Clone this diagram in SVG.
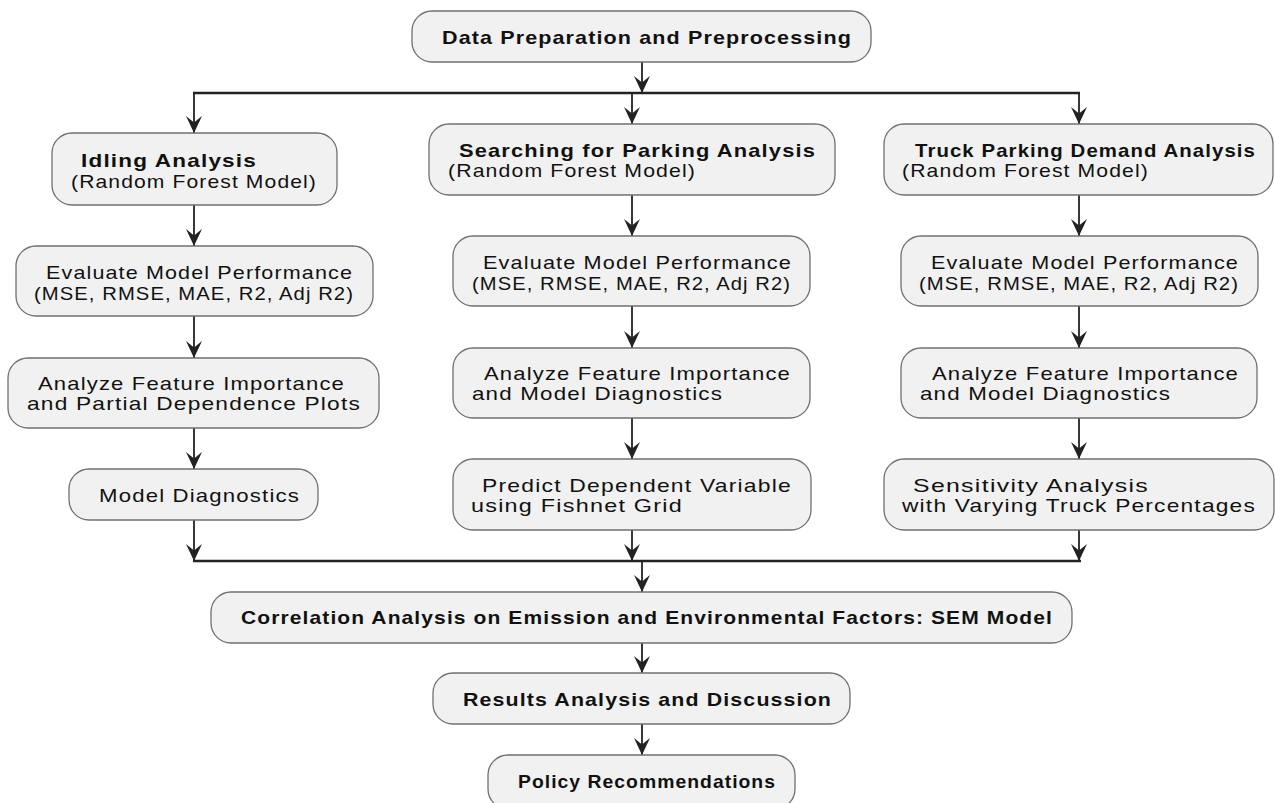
<svg xmlns="http://www.w3.org/2000/svg" width="1275" height="803" viewBox="0 0 1275 803">
<defs>
<style>
.box{fill:#f1f1f1;stroke:#707070;stroke-width:1.3}
.t{font-family:"Liberation Sans",Arial,Helvetica,sans-serif;font-size:19px;fill:#111;letter-spacing:1px}
.b{font-weight:bold}
.c{fill:none;stroke:#222;stroke-width:1.8}
.h{fill:none;stroke:#222;stroke-width:2.5}
</style>
<marker id="ah" viewBox="-18 -9 19 18" refX="0" refY="0" markerWidth="19" markerHeight="18" markerUnits="userSpaceOnUse" orient="auto">
<path d="M0,0 L-17,-8 L-10.5,0 L-17,8 Z" fill="#222"/>
</marker>
</defs>
<rect width="1275" height="803" fill="#ffffff"/>

<g id="connectors">
<line class="h" x1="193" y1="93" x2="1080" y2="93"/>
<line class="h" x1="193" y1="561" x2="1081" y2="561"/>
<line class="c" x1="642" y1="62" x2="642" y2="93" marker-end="url(#ah)"/>
<line class="c" x1="194" y1="93" x2="194" y2="133" marker-end="url(#ah)"/>
<line class="c" x1="632" y1="93" x2="632" y2="124" marker-end="url(#ah)"/>
<line class="c" x1="1079" y1="93" x2="1079" y2="124" marker-end="url(#ah)"/>
<line class="c" x1="194" y1="205" x2="194" y2="246" marker-end="url(#ah)"/>
<line class="c" x1="194" y1="316" x2="194" y2="358" marker-end="url(#ah)"/>
<line class="c" x1="194" y1="428" x2="194" y2="469" marker-end="url(#ah)"/>
<line class="c" x1="194" y1="520" x2="194" y2="561" marker-end="url(#ah)"/>
<line class="c" x1="632" y1="195" x2="632" y2="236" marker-end="url(#ah)"/>
<line class="c" x1="632" y1="306" x2="632" y2="348" marker-end="url(#ah)"/>
<line class="c" x1="632" y1="418" x2="632" y2="459" marker-end="url(#ah)"/>
<line class="c" x1="632" y1="530" x2="632" y2="561" marker-end="url(#ah)"/>
<line class="c" x1="1079" y1="195" x2="1079" y2="236" marker-end="url(#ah)"/>
<line class="c" x1="1079" y1="306" x2="1079" y2="348" marker-end="url(#ah)"/>
<line class="c" x1="1079" y1="418" x2="1079" y2="459" marker-end="url(#ah)"/>
<line class="c" x1="1079" y1="530" x2="1079" y2="561" marker-end="url(#ah)"/>
<line class="c" x1="642" y1="561" x2="642" y2="592" marker-end="url(#ah)"/>
<line class="c" x1="642" y1="643" x2="642" y2="673" marker-end="url(#ah)"/>
<line class="c" x1="642" y1="724" x2="642" y2="755" marker-end="url(#ah)"/>
</g>

<g id="n-data">
<rect class="box" x="412" y="11" width="459" height="51" rx="20"/>
<text class="t b" x="442" y="44" textLength="410" lengthAdjust="spacingAndGlyphs">Data Preparation and Preprocessing</text>
</g>

<g id="n-idling">
<rect class="box" x="52" y="133" width="285" height="72" rx="20"/>
<text class="t b" x="81" y="167" textLength="176" lengthAdjust="spacingAndGlyphs">Idling Analysis</text>
<text class="t" x="71" y="188" textLength="246" lengthAdjust="spacingAndGlyphs">(Random Forest Model)</text>
</g>

<g id="n-search">
<rect class="box" x="429" y="124" width="406" height="71" rx="20"/>
<text class="t b" x="459" y="157" textLength="357" lengthAdjust="spacingAndGlyphs">Searching for Parking Analysis</text>
<text class="t" x="448" y="177" textLength="248" lengthAdjust="spacingAndGlyphs">(Random Forest Model)</text>
</g>

<g id="n-truck">
<rect class="box" x="884" y="124" width="389" height="71" rx="20"/>
<text class="t b" x="915" y="157" textLength="341" lengthAdjust="spacingAndGlyphs">Truck Parking Demand Analysis</text>
<text class="t" x="902" y="177" textLength="247" lengthAdjust="spacingAndGlyphs">(Random Forest Model)</text>
</g>

<g id="n-eval-l">
<rect class="box" x="16" y="246" width="357" height="70" rx="20"/>
<text class="t" x="46" y="279" textLength="307" lengthAdjust="spacingAndGlyphs">Evaluate Model Performance</text>
<text class="t" x="34" y="300" textLength="320" lengthAdjust="spacingAndGlyphs">(MSE, RMSE, MAE, R2, Adj R2)</text>
</g>

<g id="n-analyze-l">
<rect class="box" x="8" y="358" width="371" height="70" rx="20"/>
<text class="t" x="38" y="390" textLength="307" lengthAdjust="spacingAndGlyphs">Analyze Feature Importance</text>
<text class="t" x="27" y="410" textLength="334" lengthAdjust="spacingAndGlyphs">and Partial Dependence Plots</text>
</g>

<g id="n-diag-l">
<rect class="box" x="69" y="469" width="249" height="51" rx="20"/>
<text class="t" x="99" y="502" textLength="201" lengthAdjust="spacingAndGlyphs">Model Diagnostics</text>
</g>

<g id="n-eval-m">
<rect class="box" x="453" y="236" width="357" height="70" rx="20"/>
<text class="t" x="483" y="269" textLength="309" lengthAdjust="spacingAndGlyphs">Evaluate Model Performance</text>
<text class="t" x="472" y="290" textLength="319" lengthAdjust="spacingAndGlyphs">(MSE, RMSE, MAE, R2, Adj R2)</text>
</g>

<g id="n-analyze-m">
<rect class="box" x="453" y="348" width="357" height="70" rx="20"/>
<text class="t" x="484" y="380" textLength="307" lengthAdjust="spacingAndGlyphs">Analyze Feature Importance</text>
<text class="t" x="472" y="400" textLength="251" lengthAdjust="spacingAndGlyphs">and Model Diagnostics</text>
</g>

<g id="n-predict">
<rect class="box" x="453" y="459" width="358" height="71" rx="20"/>
<text class="t" x="482" y="492" textLength="310" lengthAdjust="spacingAndGlyphs">Predict Dependent Variable</text>
<text class="t" x="471" y="512" textLength="212" lengthAdjust="spacingAndGlyphs">using Fishnet Grid</text>
</g>

<g id="n-eval-r">
<rect class="box" x="901" y="236" width="357" height="70" rx="20"/>
<text class="t" x="931" y="269" textLength="308" lengthAdjust="spacingAndGlyphs">Evaluate Model Performance</text>
<text class="t" x="919" y="290" textLength="320" lengthAdjust="spacingAndGlyphs">(MSE, RMSE, MAE, R2, Adj R2)</text>
</g>

<g id="n-analyze-r">
<rect class="box" x="901" y="348" width="356" height="70" rx="20"/>
<text class="t" x="932" y="380" textLength="307" lengthAdjust="spacingAndGlyphs">Analyze Feature Importance</text>
<text class="t" x="920" y="400" textLength="251" lengthAdjust="spacingAndGlyphs">and Model Diagnostics</text>
</g>

<g id="n-sensitivity">
<rect class="box" x="884" y="459" width="390" height="71" rx="20"/>
<text class="t" x="913" y="492" textLength="236" lengthAdjust="spacingAndGlyphs">Sensitivity Analysis</text>
<text class="t" x="902" y="512" textLength="354" lengthAdjust="spacingAndGlyphs">with Varying Truck Percentages</text>
</g>

<g id="n-correlation">
<rect class="box" x="211" y="592" width="861" height="51" rx="20"/>
<text class="t b" x="241" y="624" textLength="812" lengthAdjust="spacingAndGlyphs">Correlation Analysis on Emission and Environmental Factors: SEM Model</text>
</g>

<g id="n-results">
<rect class="box" x="433" y="673" width="417" height="51" rx="20"/>
<text class="t b" x="463" y="706" textLength="369" lengthAdjust="spacingAndGlyphs">Results Analysis and Discussion</text>
</g>

<g id="n-policy">
<rect class="box" x="488" y="755" width="307" height="54" rx="20"/>
<text class="t b" x="518" y="788" textLength="258" lengthAdjust="spacingAndGlyphs">Policy Recommendations</text>
</g>
</svg>
